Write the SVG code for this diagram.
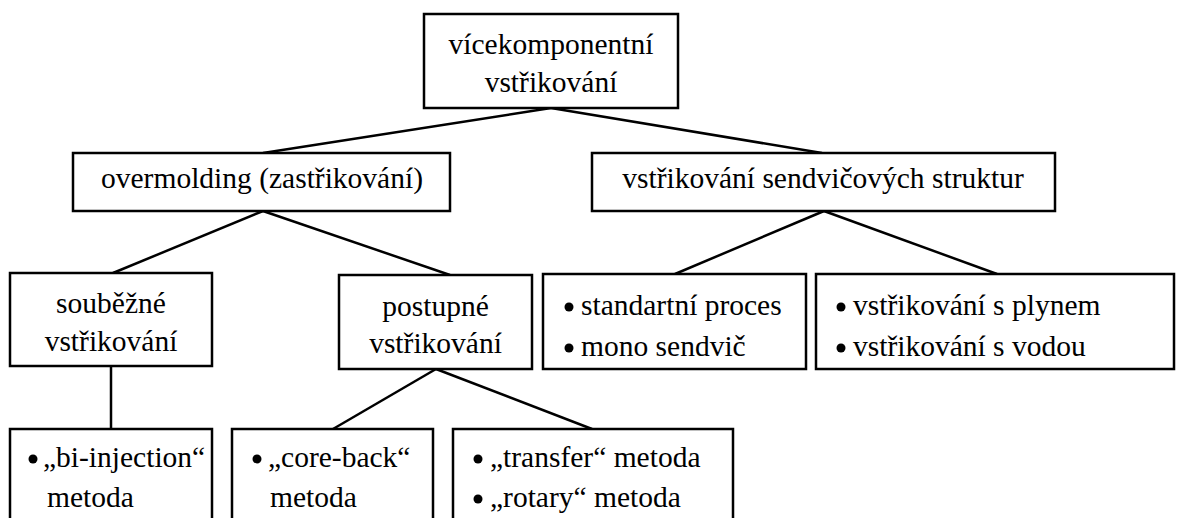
<svg xmlns="http://www.w3.org/2000/svg" width="1178" height="518" viewBox="0 0 1178 518">
<style>
.box{fill:#fff;stroke:#000;stroke-width:2.5}
text{font-family:"Liberation Serif","Times New Roman",serif;font-size:29.5px;fill:#000}
.c{text-anchor:middle}
.b{fill:#000}
#connectors line{stroke:#000;stroke-width:2.5}
</style>
<rect width="1178" height="518" fill="#fff"/>
<g id="connectors">
<line x1="551" y1="108" x2="263" y2="153"/>
<line x1="551" y1="108" x2="822" y2="153"/>
<line x1="263" y1="211" x2="113" y2="273"/>
<line x1="263" y1="211" x2="450" y2="275"/>
<line x1="824" y1="211" x2="675" y2="274"/>
<line x1="824" y1="211" x2="997" y2="274"/>
<line x1="111" y1="366" x2="111" y2="429"/>
<line x1="436" y1="369" x2="333" y2="429"/>
<line x1="436" y1="369" x2="592" y2="429"/>
</g>
<g id="root">
<rect class="box" x="424" y="14" width="254" height="94"/>
<text class="c" x="551" y="54">vícekomponentní</text>
<text class="c" x="551" y="92">vstřikování</text>
</g>
<g id="overmolding">
<rect class="box" x="73" y="153" width="377" height="58"/>
<text class="c" x="262" y="188">overmolding (zastřikování)</text>
</g>
<g id="sandwich">
<rect class="box" x="592" y="153" width="463" height="58"/>
<text class="c" x="823" y="188">vstřikování sendvičových struktur</text>
</g>
<g id="soubezne">
<rect class="box" x="10" y="273" width="202" height="93"/>
<text class="c" x="111" y="313">souběžné</text>
<text class="c" x="111" y="351">vstřikování</text>
</g>
<g id="postupne">
<rect class="box" x="339" y="275" width="193" height="94"/>
<text class="c" x="435.5" y="316">postupné</text>
<text class="c" x="435.5" y="353">vstřikování</text>
</g>
<g id="standartni">
<rect class="box" x="543" y="274" width="263" height="95"/>
<circle class="b" cx="569" cy="307" r="4.5"/>
<text x="581" y="315">standartní proces</text>
<circle class="b" cx="569" cy="348" r="4.5"/>
<text x="581" y="356">mono sendvič</text>
</g>
<g id="plyn">
<rect class="box" x="816" y="274" width="358" height="95"/>
<circle class="b" cx="841" cy="307" r="4.5"/>
<text x="853" y="315">vstřikování s plynem</text>
<circle class="b" cx="841" cy="348" r="4.5"/>
<text x="853" y="356">vstřikování s vodou</text>
</g>
<g id="biinjection">
<rect class="box" x="10" y="429" width="202" height="100"/>
<circle class="b" cx="33" cy="459" r="4.5"/>
<text x="43" y="467">„bi-injection“</text>
<text x="47" y="507">metoda</text>
</g>
<g id="coreback">
<rect class="box" x="232" y="429" width="201" height="100"/>
<circle class="b" cx="257" cy="459" r="4.5"/>
<text x="268" y="467">„core-back“</text>
<text x="270" y="507">metoda</text>
</g>
<g id="transfer">
<rect class="box" x="453" y="429" width="280" height="100"/>
<circle class="b" cx="478" cy="459" r="4.5"/>
<text x="490" y="467">„transfer“ metoda</text>
<circle class="b" cx="478" cy="499" r="4.5"/>
<text x="490" y="507">„rotary“ metoda</text>
</g>
</svg>
